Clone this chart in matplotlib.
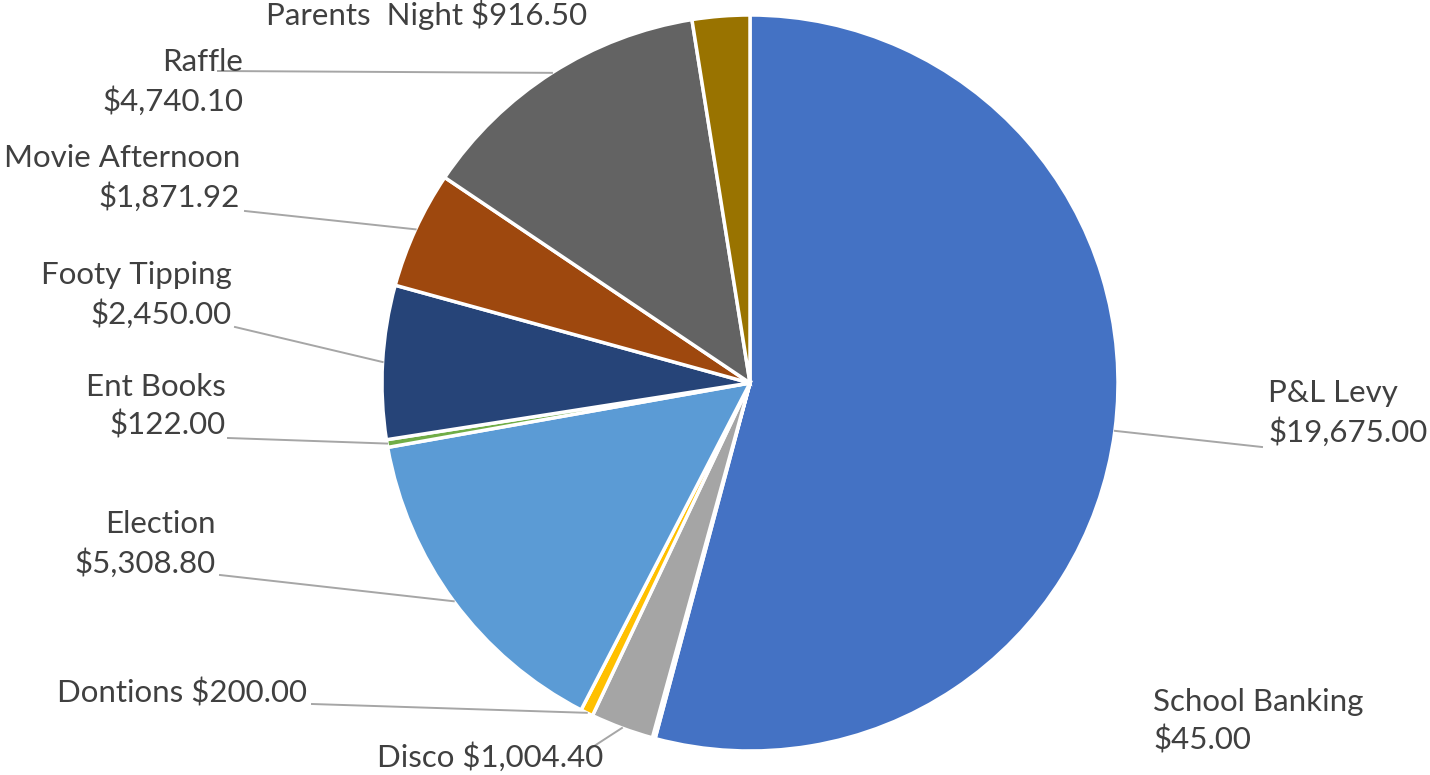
import numpy as np
import matplotlib
matplotlib.use("Agg")
import matplotlib.pyplot as plt

# datos del gráfico (sentido horario desde arriba)
categories = ["P&L Levy", "School Banking", "Disco", "Dontions", "Election",
              "Ent Books", "Footy Tipping", "Movie Afternoon", "Raffle", "Parents  Night"]
amounts = [19675.00, 45.00, 1004.40, 200.00, 5308.80,
           122.00, 2450.00, 1871.92, 4740.10, 916.50]
label_texts = ["P&L Levy\n$19,675.00", "School Banking\n$45.00", "Disco $1,004.40",
               "Dontions $200.00", "Election\n$5,308.80", "Ent Books\n$122.00",
               "Footy Tipping\n$2,450.00", "Movie Afternoon\n$1,871.92",
               "Raffle\n$4,740.10", "Parents  Night $916.50"]
colors = ["#4472C4", "#ED7D31", "#A5A5A5", "#FFC000", "#5B9BD5",
          "#70AD47", "#264478", "#9E480E", "#636363", "#997300"]

W, H = 1430, 775
cx, cy, r = 750, 383, 368

# posición de etiquetas en píxeles (origen arriba-izquierda): x, y, ha, fin de la línea guía
label_pos = [
    (1268, 413, "left", (1262, 447)),
    (1153, 721, "left", None),
    (377, 757, "left", (588, 750)),
    (307, 693, "right", (312, 704)),
    (216, 544, "right", (220, 575)),
    (226, 406, "right", (228, 438)),
    (232, 295, "right", (235, 327)),
    (240, 178, "right", (245, 211)),
    (243, 82, "right", (218, 71)),
    (587, 15, "right", None),
]

plt.rcParams["font.family"] = ["Lato", "DejaVu Sans"]
fig = plt.figure(figsize=(W / 100, H / 100), dpi=100)
ax = fig.add_axes([0, 0, 1, 1])

wedges, _ = ax.pie(amounts, colors=colors, startangle=90, counterclock=False,
                   center=(cx, H - cy), radius=r,
                   wedgeprops=dict(edgecolor="white", linewidth=2.5))

for w, txt, (lx, ly, ha, end) in zip(wedges, label_texts, label_pos):
    if end is not None:
        ang = np.deg2rad((w.theta1 + w.theta2) / 2)
        sx = cx + r * np.cos(ang)
        sy = H - cy + r * np.sin(ang)
        ax.plot([sx, end[0]], [sy, H - end[1]], color="#A6A6A6", lw=1.4, zorder=1)
    ax.text(lx, H - ly, txt, ha=ha, va="center", fontsize=22.5, color="#404040",
            linespacing=1.4, zorder=3)

ax.set_xlim(0, W)
ax.set_ylim(0, H)
ax.set_aspect("equal")
ax.axis("off")

fig.savefig("out.png", dpi=100)
